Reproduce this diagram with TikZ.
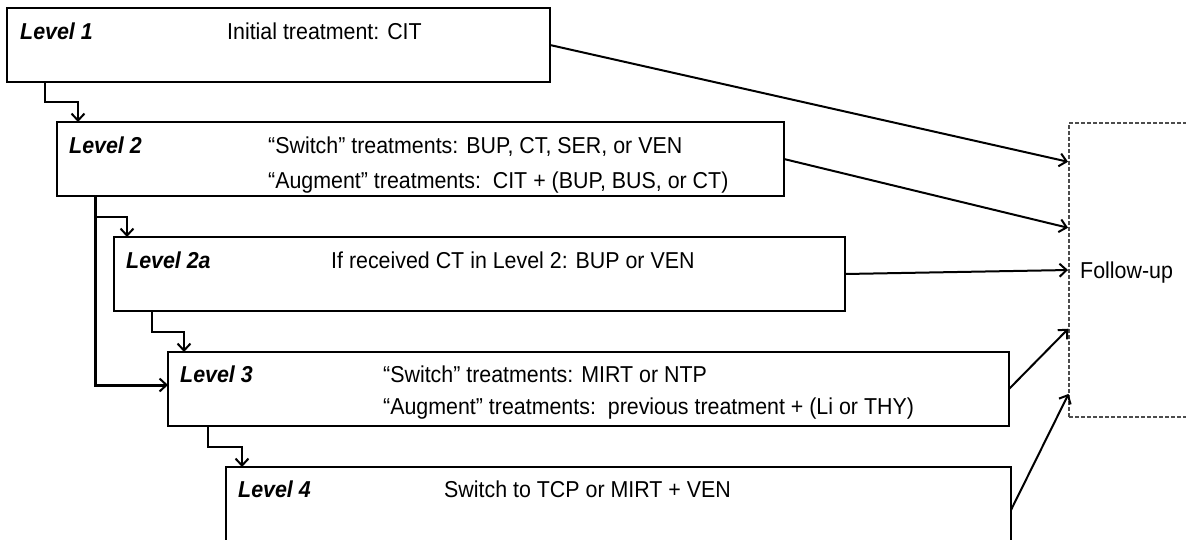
\documentclass[tikz,border=0pt]{standalone}
\usepackage{fontspec}
\setmainfont{Liberation Sans}[FakeStretch=0.93]
\usetikzlibrary{arrows.meta}
\begin{document}
\begin{tikzpicture}[x=1pt,y=-1pt,
  box/.style={draw=black, line width=2pt, rectangle, anchor=north west, inner sep=0pt, outer sep=0pt},
  fubox/.style={draw=black!70, line width=1.3pt, dash pattern=on 4pt off 2pt, rectangle, anchor=north west, inner sep=0pt, outer sep=0pt},
  lvl/.style={anchor=base west, inner sep=0pt, font=\fontsize{23}{27}\selectfont\bfseries\itshape},
  txt/.style={anchor=base west, inner sep=0pt, font=\fontsize{23}{27}\selectfont},
  conn/.style={line width=2pt, -{Straight Barb[length=7pt,width=13pt,line width=2pt]}},
]
\useasboundingbox (0,0) rectangle (1186,539);
% boxes
\node[box, minimum width=543pt, minimum height=74pt] (l1) at (7,8) {};
\node[box, minimum width=727pt, minimum height=74pt] (l2) at (57,122) {};
\node[box, minimum width=731pt, minimum height=74pt] (l2a) at (114,237) {};
\node[box, minimum width=841pt, minimum height=74pt] (l3) at (168,352) {};
\node[box, minimum width=785pt, minimum height=86pt] (l4) at (226,467) {};
\node[fubox, minimum width=200pt, minimum height=294pt] (fu) at (1069,123) {};
% texts
\node[lvl] (t1) at (20,39) {Level 1};
\node[txt] (t1b) at (227,39) {Initial treatment: CIT};
\node[lvl] (t2) at (69,153) {Level 2};
\node[txt] (t2b) at (268,153) {“Switch” treatments: BUP, CT, SER, or VEN};
\node[txt] (t2c) at (268,188) {“Augment” treatments:\ \ CIT + (BUP, BUS, or CT)};
\node[lvl] (t2a) at (126,268) {Level 2a};
\node[txt] (t2ab) at (331,268) {If received CT in Level 2: BUP or VEN};
\node[lvl] (t3) at (180,382) {Level 3};
\node[txt] (t3b) at (383,382) {“Switch” treatments: MIRT or NTP};
\node[txt] (t3c) at (383,414) {“Augment” treatments:\ \ previous treatment + (Li or THY)};
\node[lvl] (t4) at (238,497) {Level 4};
\node[txt] (t4b) at (444,497) {Switch to TCP or MIRT + VEN};
\node[txt] (fut) at (1080,278) {Follow-up};
% level connectors
\draw[conn] ([xshift=38pt]l1.south west) -- ++(0,20) -| ([xshift=21pt]l2.north west);
\draw[conn, line width=3pt] ([xshift=38pt]l2.south west) |- ([yshift=4pt]l3.west);
\draw[conn] ([xshift=38pt,yshift=-21pt]l2.south west) -| ([xshift=13pt]l2a.north west);
\draw[conn] ([xshift=38pt]l2a.south west) -- ++(0,21) -| ([xshift=16pt]l3.north west);
\draw[conn] ([xshift=40pt]l3.south west) -- ++(0,21) -| ([xshift=16pt]l4.north west);
% follow-up connectors
\draw[conn, shorten >=1pt] (l1.east) -- ([yshift=108pt]fu.west);
\draw[conn, shorten >=1pt] (l2.east) -- ([yshift=42pt]fu.west);
\draw[conn, shorten >=1pt] (l2a.east) -- (fu.west);
\draw[conn, shorten >=1pt] (l3.east) -- ([yshift=-58pt]fu.west);
\draw[conn, shorten >=1pt] (l4.east) -- ([yshift=-123pt]fu.west);
\end{tikzpicture}
\end{document}
